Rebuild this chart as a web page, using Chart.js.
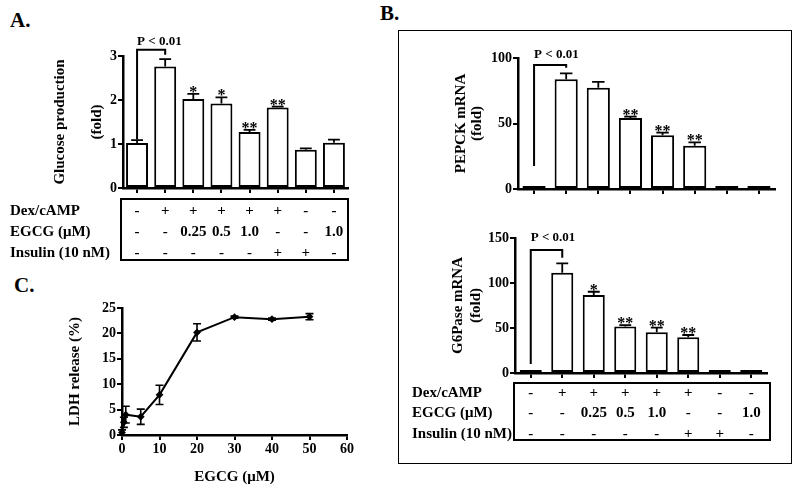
<!DOCTYPE html>
<html lang="en">
<head>
  <meta charset="UTF-8" />
  <title>EGCG and gluconeogenesis</title>
  <script src="https://cdn.jsdelivr.net/npm/chart.js"></script>
  <style>
    body { margin: 0; background: #fff; }
    #page { position: relative; width: 800px; height: 490px; font-family: 'Liberation Serif', 'Times New Roman', serif; font-weight: bold; color: #000; }
    canvas { position: absolute; }
    .tag { position: absolute; font-size: 21px; line-height: 21px; }
    #boxB { position: absolute; left: 398px; top: 30px; width: 394px; height: 434px; border: 1.5px solid #000; box-sizing: border-box; }
  </style>
</head>
<body>
  <div id="page">
    <div class="tag" style="left:10px; top:10px;">A.</div>
    <div class="tag" style="left:380px; top:3px;">B.</div>
    <div class="tag" style="left:14px; top:275px;">C.</div>
    <div id="boxB"></div>
    <canvas id="chartA" width="360" height="270" style="left:0; top:0;"></canvas>
    <canvas id="chartPepck" width="394" height="170" style="left:398px; top:30px;"></canvas>
    <canvas id="chartG6p" width="394" height="264" style="left:398px; top:200px;"></canvas>
    <canvas id="chartC" width="360" height="220" style="left:0; top:270px;"></canvas>
  </div>

  <script>
    // treatment table (same for A and B)
    const rowLabels = ['Dex/cAMP', 'EGCG (μM)', 'Insulin (10 nM)'];
    const dexRow = ['-', '+', '+', '+', '+', '+', '-', '-'];
    const egcgRow = ['-', '-', '0.25', '0.5', '1.0', '-', '-', '1.0'];
    const insulinRow = ['-', '-', '-', '-', '-', '+', '+', '-'];
    const groups = dexRow.map((d, i) => d + ' / ' + egcgRow[i] + ' / ' + insulinRow[i]);

    // A. glucose production (fold)
    const glucoseVals = [1.02, 2.76, 2.02, 1.92, 1.27, 1.83, 0.87, 1.03];
    const glucoseErr = [0.07, 0.17, 0.12, 0.14, 0.05, 0.02, 0.03, 0.07];
    const glucoseStars = ['', '', '*', '*', '**', '**', '', ''];

    // B. PEPCK mRNA (fold)
    const pepckVals = [1, 83.7, 77.3, 54.2, 41, 33, 0.5, 0.5];
    const pepckErr = [0, 4.6, 4.4, 1.0, 2.0, 2.6, 0, 0];
    const pepckStars = ['', '', '', '**', '**', '**', '', ''];

    // B. G6Pase mRNA (fold)
    const g6pVals = [1, 111.5, 86.7, 51.8, 45.2, 39.6, 1, 1];
    const g6pErr = [0, 10.4, 3.6, 1.5, 5.2, 2.6, 0, 0];
    const g6pStars = ['', '', '*', '**', '**', '**', '', ''];

    // C. LDH release (%)
    const ldhDose = [0, 0.5, 1, 5, 10, 20, 30, 40, 50];
    const ldhVals = [0.5, 2.5, 4.0, 3.6, 7.9, 20.2, 23.2, 22.8, 23.3];
    const ldhErr = [0.5, 1.0, 1.65, 1.5, 1.9, 1.7, 0.2, 0.2, 0.6];

    const SERIF = "'Liberation Serif', 'Times New Roman', serif";
    Chart.defaults.font.family = SERIF;
    Chart.defaults.font.weight = 'bold';
    Chart.defaults.color = '#000';
    Chart.defaults.animation = false;
    Chart.defaults.plugins.legend.display = false;
    Chart.defaults.plugins.tooltip.enabled = false;

    // error bars, stars, P bracket and treatment table for the bar charts
    function barDecor(cfg) {
      return {
        id: 'barDecor',
        afterDatasetsDraw(chart) {
          const ctx = chart.ctx;
          const ys = chart.scales.y;
          const bars = chart.getDatasetMeta(0).data;
          const vals = chart.data.datasets[0].data;
          ctx.save();
          ctx.strokeStyle = '#000';
          ctx.fillStyle = '#000';
          ctx.lineWidth = 1.8;
          ctx.textAlign = 'center';
          ctx.textBaseline = 'alphabetic';
          ctx.font = 'bold 16px ' + SERIF;
          bars.forEach((bar, i) => {
            const top = ys.getPixelForValue(vals[i] + cfg.errors[i]);
            const cap = bar.width * 0.27;
            if (cfg.errors[i] > 0) {
              ctx.beginPath();
              ctx.moveTo(bar.x, bar.y);
              ctx.lineTo(bar.x, top);
              ctx.moveTo(bar.x - cap, top);
              ctx.lineTo(bar.x + cap, top);
              ctx.stroke();
            }
            if (cfg.stars[i]) ctx.fillText(cfg.stars[i], bar.x, top + 3);
          });

          const b = cfg.bracket;
          const x1 = bars[b.from].x, x2 = bars[b.to].x;
          const yTop = ys.getPixelForValue(b.top);
          ctx.lineWidth = 2;
          ctx.beginPath();
          ctx.moveTo(x1, ys.getPixelForValue(b.fromEnd));
          ctx.lineTo(x1, yTop);
          ctx.lineTo(x2, yTop);
          ctx.lineTo(x2, ys.getPixelForValue(b.toEnd));
          ctx.stroke();
          ctx.font = 'bold 13px ' + SERIF;
          ctx.textAlign = 'left';
          ctx.fillText('P < 0.01', x1, yTop - b.gap);

          const t = cfg.table;
          if (t) {
            ctx.lineWidth = 2;
            ctx.strokeRect(t.left, t.top, t.right - t.left, t.bottom - t.top);
            ctx.font = 'bold 15px ' + SERIF;
            ctx.textBaseline = 'middle';
            [dexRow, egcgRow, insulinRow].forEach((row, r) => {
              ctx.textAlign = 'left';
              ctx.fillText(rowLabels[r], t.labelX, t.rowY[r]);
              ctx.textAlign = 'center';
              row.forEach((cell, i) => ctx.fillText(cell, bars[i].x, t.rowY[r]));
            });
          }
          ctx.restore();
        }
      };
    }

    function barChart(id, vals, opt) {
      return new Chart(document.getElementById(id), {
        type: 'bar',
        data: {
          labels: groups,
          datasets: [{
            data: vals,
            backgroundColor: '#fff',
            borderColor: '#000',
            borderWidth: 2,
            borderSkipped: false,
            minBarLength: 3,
            barPercentage: opt.barPct,
            categoryPercentage: 1
          }]
        },
        options: {
          responsive: false,
          layout: { padding: opt.padding },
          scales: {
            x: {
              ticks: { display: false },
              grid: { offset: false, drawOnChartArea: false, tickLength: 5, color: '#000', lineWidth: 2 },
              border: { color: '#000', width: 2.5 },
              afterFit(s) { s.height = 5; }
            },
            y: {
              min: 0,
              max: opt.max,
              ticks: { stepSize: opt.step, padding: 1, font: { size: 14, weight: 'bold' } },
              grid: { drawOnChartArea: false, tickLength: 5, color: '#000', lineWidth: 2 },
              border: { color: '#000', width: 2.5 },
              title: {
                display: true,
                text: opt.title,
                font: { size: 15, weight: 'bold', lineHeight: opt.titleLine + 'px' },
                padding: { top: opt.titleX - opt.titleLine / 2, bottom: 0 }
              },
              afterFit(s) { s.width = opt.axisWidth; }
            }
          }
        },
        plugins: [barDecor(opt.decor)]
      });
    }

    barChart('chartA', glucoseVals, {
      barPct: 0.78, max: 3, step: 1, axisWidth: 123,
      padding: { top: 56, right: 12, bottom: 77, left: 0 },
      title: ['Glucose production', '(fold)'], titleX: 60, titleLine: 37,
      decor: {
        errors: glucoseErr, stars: glucoseStars,
        bracket: { from: 0, to: 1, top: 3.14, fromEnd: 1.1, toEnd: 3.03, gap: 5 },
        table: { left: 121, right: 348, top: 199, bottom: 260, labelX: 10, rowY: [211, 232, 253] }
      }
    });

    barChart('chartPepck', pepckVals, {
      barPct: 0.72, max: 100, step: 50, axisWidth: 120,
      padding: { top: 28, right: 17, bottom: 6, left: 0 },
      title: ['PEPCK mRNA', '(fold)'], titleX: 63, titleLine: 16,
      decor: {
        errors: pepckErr, stars: pepckStars,
        bracket: { from: 0, to: 1, top: 94.7, fromEnd: 17.6, toEnd: 92.5, gap: 7 }
      }
    });

    barChart('chartG6p', g6pVals, {
      barPct: 0.7, max: 150, step: 50, axisWidth: 117,
      padding: { top: 38, right: 25, bottom: 86, left: 0 },
      title: ['G6Pase mRNA', '(fold)'], titleX: 60, titleLine: 18,
      decor: {
        errors: g6pErr, stars: g6pStars,
        bracket: { from: 0, to: 1, top: 136.7, fromEnd: 10, toEnd: 128, gap: 9 },
        table: { left: 116, right: 372, top: 183, bottom: 240, labelX: 14, rowY: [193, 213, 234] }
      }
    });

    // symmetric error bars for the LDH curve
    const lineErr = {
      id: 'lineErr',
      afterDatasetsDraw(chart) {
        const ctx = chart.ctx;
        const ys = chart.scales.y;
        const pts = chart.getDatasetMeta(0).data;
        ctx.save();
        ctx.strokeStyle = '#000';
        ctx.lineWidth = 1.6;
        pts.forEach((p, i) => {
          const hi = ys.getPixelForValue(ldhVals[i] + ldhErr[i]);
          const lo = ys.getPixelForValue(Math.max(0, ldhVals[i] - ldhErr[i]));
          ctx.beginPath();
          ctx.moveTo(p.x, hi); ctx.lineTo(p.x, lo);
          ctx.moveTo(p.x - 4, hi); ctx.lineTo(p.x + 4, hi);
          ctx.moveTo(p.x - 4, lo); ctx.lineTo(p.x + 4, lo);
          ctx.stroke();
        });
        ctx.restore();
      }
    };

    new Chart(document.getElementById('chartC'), {
      type: 'line',
      data: {
        datasets: [{
          data: ldhDose.map((d, i) => ({ x: d, y: ldhVals[i] })),
          borderColor: '#000',
          borderWidth: 2,
          pointStyle: 'rectRot',
          pointRadius: 2.5,
          pointBackgroundColor: '#000',
          pointBorderColor: '#000',
          tension: 0,
          clip: 6
        }]
      },
      options: {
        responsive: false,
        layout: { padding: { top: 38, right: 13, bottom: 0, left: 0 } },
        scales: {
          x: {
            type: 'linear', min: 0, max: 60,
            ticks: { stepSize: 10, padding: 1, font: { size: 14, weight: 'bold' } },
            grid: { drawOnChartArea: false, tickLength: 5, color: '#000', lineWidth: 2 },
            border: { color: '#000', width: 2.5 },
            title: { display: true, text: 'EGCG (μM)', font: { size: 15, weight: 'bold', lineHeight: '16px' }, padding: { top: 0, bottom: 5 } },
            afterFit(s) { s.height = 55; }
          },
          y: {
            min: 0, max: 25,
            ticks: { stepSize: 5, padding: 1, font: { size: 14, weight: 'bold' } },
            grid: { drawOnChartArea: false, tickLength: 5, color: '#000', lineWidth: 2 },
            border: { color: '#000', width: 2.5 },
            title: { display: true, text: 'LDH release (%)', font: { size: 15, weight: 'bold', lineHeight: '16px' }, padding: { top: 67, bottom: 0 } },
            afterFit(s) { s.width = 122; }
          }
        }
      },
      plugins: [lineErr]
    });
  </script>
</body>
</html>
